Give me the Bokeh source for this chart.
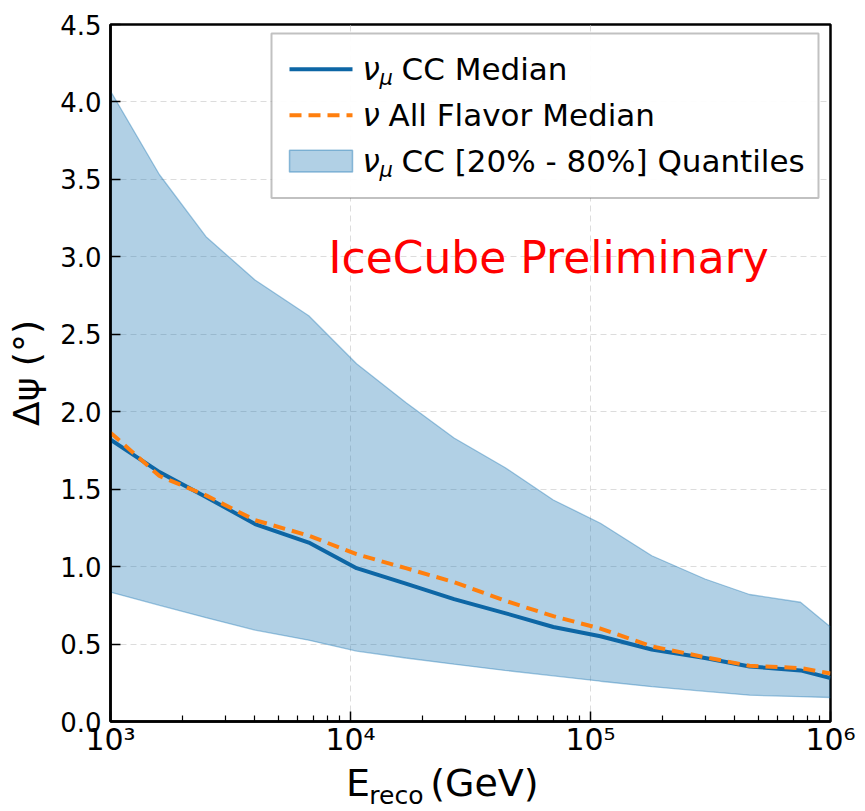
import math

from bokeh.plotting import figure
from bokeh.layouts import column
from bokeh.models import Label, BoxAnnotation, FixedTicker, NumeralTickFormatter, Range1d
from bokeh.core.properties import value
from bokeh.embed import file_html
from bokeh.resources import INLINE

# Reconstructed energy (GeV) and angular error (degrees)
energy = [1000, 1600, 2500, 4000, 6700, 10600, 17000, 27000, 44000, 70000,
          110000, 180000, 300000, 460000, 750000, 1000000]
numu_median = [1.82, 1.61, 1.45, 1.275, 1.155, 0.99, 0.89, 0.79, 0.70, 0.61,
               0.55, 0.465, 0.41, 0.355, 0.33, 0.28]
all_flavor_median = [1.865, 1.585, 1.46, 1.30, 1.20, 1.08, 0.99, 0.90, 0.78, 0.68,
                     0.60, 0.485, 0.415, 0.36, 0.345, 0.31]
numu_q20 = [0.835, 0.75, 0.67, 0.59, 0.525, 0.455, 0.41, 0.37, 0.33, 0.295,
            0.26, 0.225, 0.195, 0.17, 0.16, 0.155]
numu_q80 = [4.07, 3.53, 3.13, 2.85, 2.62, 2.31, 2.06, 1.83, 1.64, 1.43,
            1.28, 1.07, 0.92, 0.82, 0.77, 0.61]

x_major = [1e3, 1e4, 1e5, 1e6]
x_tick_labels = ["10³", "10⁴", "10⁵", "10⁶"]
y_major = [0.0, 0.5, 1.0, 1.5, 2.0, 2.5, 3.0, 3.5, 4.0, 4.5]

X_MIN, X_MAX = 1e3, 1e6
Y_MIN, Y_MAX = 0.0, 4.5

# page layout (pixels)
W, H = 865, 811
LEFT, RIGHT, TOP, BOTTOM = 110, 35, 24, 36
FRAME_W, FRAME_H = 720, 699
MAIN_H = TOP + FRAME_H + BOTTOM
CAP_H = H - MAIN_H

BAND = "#1f77b4"
MEDIAN_BLUE = "#0d66a5"
ORANGE = "#ff7f0e"
FONT = "DejaVu Sans"


def sx(px):
    """page x pixel -> data x (log axis)"""
    lo, hi = math.log10(X_MIN), math.log10(X_MAX)
    return 10 ** (lo + (px - LEFT) / FRAME_W * (hi - lo))


def sy(py):
    """page y pixel -> data y"""
    return Y_MIN + (TOP + FRAME_H - py) / FRAME_H * (Y_MAX - Y_MIN)


p = figure(width=W, height=MAIN_H, x_axis_type="log",
           x_range=(X_MIN, X_MAX), y_range=(Y_MIN, Y_MAX),
           min_border_left=LEFT, min_border_right=RIGHT,
           min_border_top=TOP, min_border_bottom=BOTTOM,
           output_backend="svg", toolbar_location=None)
p.background_fill_color = "white"
p.border_fill_color = "white"
p.outline_line_color = "black"
p.outline_line_width = 2.5

# 20%-80% quantile band
p.varea(x=energy, y1=numu_q20, y2=numu_q80, fill_color=BAND, fill_alpha=0.35)
p.line(energy, numu_q20, line_color=BAND, line_alpha=0.4, line_width=1.3)
p.line(energy, numu_q80, line_color=BAND, line_alpha=0.4, line_width=1.3)

# medians
p.line(energy, numu_median, line_color=MEDIAN_BLUE, line_width=4)
p.line(energy, all_flavor_median, line_color=ORANGE, line_width=4,
       line_dash="12 7")

# axes
minor = [m * 10 ** d for d in (3, 4, 5) for m in range(2, 10)]
p.xaxis.ticker = FixedTicker(ticks=x_major, minor_ticks=minor)
p.xaxis.major_label_overrides = {t: s for t, s in zip(x_major, x_tick_labels)}
p.yaxis.ticker = FixedTicker(ticks=y_major)
p.yaxis.formatter = NumeralTickFormatter(format="0.0")

for ax in (p.xaxis, p.yaxis):
    ax.axis_line_width = 2.5
    ax.axis_line_color = "black"
    ax.major_tick_in = 10
    ax.major_tick_out = 0
    ax.major_tick_line_width = 1.5
    ax.major_tick_line_color = "black"
    ax.major_label_text_color = "black"
    ax.major_label_text_font = FONT

p.xaxis.minor_tick_in = 6
p.xaxis.minor_tick_out = 0
p.xaxis.minor_tick_line_width = 1.2
p.xaxis.minor_tick_line_color = "black"
p.yaxis.minor_tick_line_color = None

p.xaxis.major_label_text_font_size = "30px"
p.xaxis.major_label_standoff = 0
p.yaxis.major_label_text_font_size = "26px"
p.yaxis.major_label_standoff = 9

p.yaxis.axis_label = "Δψ (°)"
p.yaxis.axis_label_text_font = FONT
p.yaxis.axis_label_text_font_size = "36px"
p.yaxis.axis_label_text_font_style = "normal"
p.yaxis.axis_label_text_color = "black"
p.yaxis.axis_label_standoff = 10

# grid
for g in (p.xgrid, p.ygrid):
    g.grid_line_color = "#dcdcdc"
    g.grid_line_dash = "6 4"
    g.grid_line_width = 1
p.xgrid.ticker = FixedTicker(ticks=x_major)
p.ygrid.ticker = FixedTicker(ticks=y_major)

# watermark
p.add_layout(Label(x=sx(328), y=sy(258), text="IceCube Preliminary",
                   text_font=FONT, text_font_size="44px", text_color="red",
                   text_baseline="middle"))

# legend
p.add_layout(BoxAnnotation(left=sx(271), right=sx(818), top=sy(33), bottom=sy(198),
                           fill_color="white", fill_alpha=0.92,
                           line_color="#333333", line_width=2))
row_y = [69, 115, 161]
key_x = [sx(289), sx(352)]
r1 = p.line(key_x, [sy(row_y[0])] * 2, line_color=MEDIAN_BLUE, line_width=4)
r2 = p.line(key_x, [sy(row_y[1])] * 2, line_color=ORANGE, line_width=4,
            line_dash="12 7")
r3 = p.quad(left=key_x[0], right=key_x[1], top=sy(row_y[2] - 11),
            bottom=sy(row_y[2] + 11), fill_color=BAND, fill_alpha=0.35,
            line_color=BAND, line_alpha=0.45, line_width=1.5)
for r in (r1, r2, r3):
    r.level = "overlay"


def legend_text(px, py, text, size="31px", style="normal"):
    p.add_layout(Label(x=sx(px), y=sy(py), text=text, text_font=FONT,
                       text_font_size=size, text_font_style=style,
                       text_color="black", text_baseline="middle",
                       level="overlay"))


legend_text(362, row_y[0], "ν", style="italic")
legend_text(379, row_y[0] + 9, "μ", size="21px", style="italic")
legend_text(401, row_y[0], "CC Median")
legend_text(362, row_y[1], "ν", style="italic")
legend_text(388, row_y[1], "All Flavor Median")
legend_text(362, row_y[2], "ν", style="italic")
legend_text(379, row_y[2] + 9, "μ", size="21px", style="italic")
legend_text(401, row_y[2], "CC [20% - 80%] Quantiles")

# x-axis title strip (E with subscript "reco")
cap = figure(width=W, height=CAP_H, x_range=Range1d(0, W), y_range=Range1d(0, CAP_H),
             min_border=0, output_backend="svg", toolbar_location=None)
cap.axis.visible = False
cap.grid.visible = False
cap.outline_line_color = None
cap.background_fill_color = "white"
cap.border_fill_color = "white"


def cap_y(py):
    return MAIN_H + CAP_H - py


cap.text(x=[283], y=[cap_y(782)], text=["E"], text_font=value(FONT),
         text_font_size=value("38px"), text_baseline="middle", text_color="black")
cap.text(x=[311], y=[cap_y(795)], text=["reco"], text_font=value(FONT),
         text_font_size=value("25px"), text_baseline="middle", text_color="black")
cap.text(x=[384], y=[cap_y(782)], text=["(GeV)"], text_font=value(FONT),
         text_font_size=value("38px"), text_baseline="middle", text_color="black")

layout = column(p, cap, spacing=0)
open("out.html", "w").write(file_html(layout, INLINE))
